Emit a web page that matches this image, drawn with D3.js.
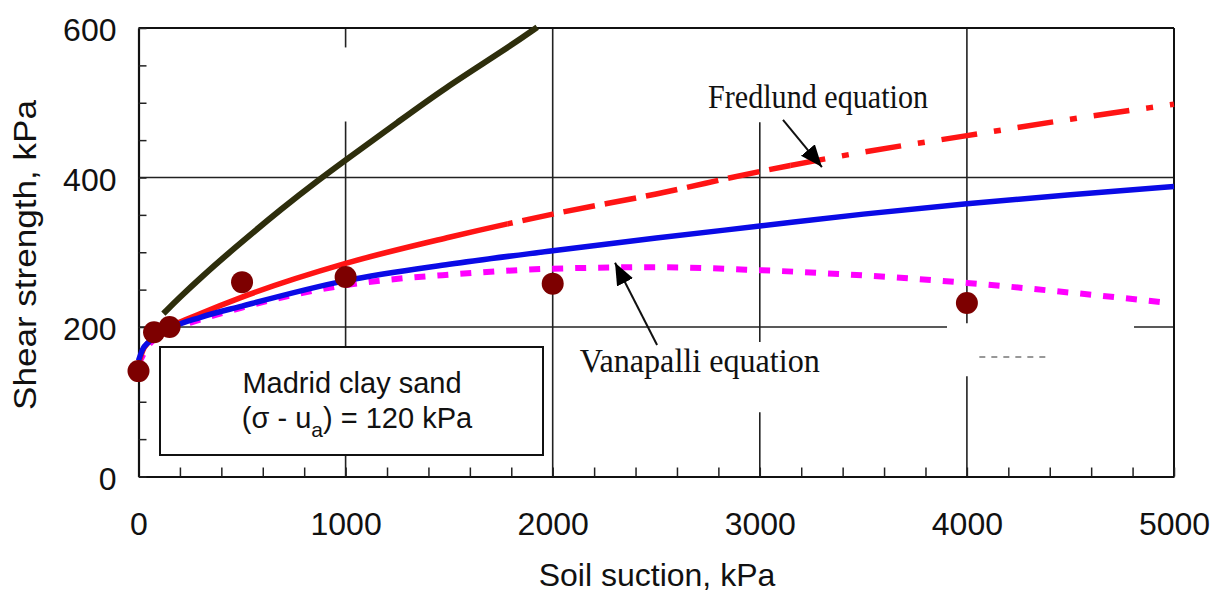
<!DOCTYPE html>
<html>
<head>
<meta charset="utf-8">
<script src="https://cdn.jsdelivr.net/npm/d3@7/dist/d3.min.js"></script>
<style>
  body { margin: 0; background: #fff; }
  svg { display: block; }
</style>
</head>
<body>
<div id="chart"></div>
<script>
// axis ticks
const suctionTicks = [0, 1000, 2000, 3000, 4000, 5000];
const strengthTicks = [0, 200, 400, 600];

// measured points
const testSuction = [0, 75, 150, 500, 1000, 2000, 4000];
const testStrength = [141, 193, 200, 260, 267, 258, 232];

// Fredlund equation (red)
const fredSuction = [0, 20, 50, 100, 150, 300, 500, 1000, 1500, 2000, 2500, 3000, 3500, 4000, 4500, 5000];
const fredStrength = [150, 168, 180, 192, 200, 218, 240, 285, 320, 351, 378, 408, 434, 456, 478, 498];

// Vanapalli equation (blue)
const vanSuction = [0, 20, 50, 100, 150, 300, 500, 1000, 1500, 2000, 2500, 3000, 3500, 4000, 4500, 5000];
const vanStrength = [155, 170, 180, 190, 198, 213, 228, 262, 284, 302, 319, 335, 351, 365, 377, 388];

// magenta dashed curve
const magSuction = [0, 50, 150, 300, 500, 800, 1000, 1200, 1500, 2000, 2500, 3000, 3500, 4000, 4500, 4950];
const magStrength = [150, 176, 195, 210, 226, 246, 256, 263, 270, 278, 280, 276, 269, 259, 246, 233];

// olive curve
const oliveSuction = [120, 200, 300, 456, 698, 876, 988, 1262, 1470, 1780, 1925];
const oliveStrength = [218, 240, 266, 304, 360, 398, 421, 476, 518, 573, 601];

const width = 1224, height = 594;

const svg = d3.select("#chart").append("svg")
  .attr("width", width)
  .attr("height", height);

svg.append("rect").attr("width", width).attr("height", height).attr("fill", "#fff");

const x = d3.scaleLinear().domain([0, 5000]).range([138.5, 1174]);
const y = d3.scaleLinear().domain([0, 600]).range([476.5, 28]);

const zip = (xs, ys) => xs.map((v, i) => [v, ys[i]]);

// gridlines (with the gaps seen in the original)
const vGrid = [[1000, 600, 574], [1000, 475, 0], [2000, 600, 0], [3000, 474, 180], [3000, 86, 0], [4000, 600, 205], [4000, 134, 0]];
const hGrid = [[400, 0, 5000], [200, 0, 3904], [200, 4807, 5000]];

const grid = svg.append("g").attr("stroke", "#222").attr("stroke-width", 1.6);
grid.selectAll(".vg").data(vGrid).join("line")
  .attr("x1", d => x(d[0])).attr("x2", d => x(d[0]))
  .attr("y1", d => y(d[1])).attr("y2", d => y(d[2]));
grid.selectAll(".hg").data(hGrid).join("line")
  .attr("y1", d => y(d[0])).attr("y2", d => y(d[0]))
  .attr("x1", d => x(d[1])).attr("x2", d => x(d[2]));

// faint leftover dashes
svg.append("line")
  .attr("x1", x(4060)).attr("x2", x(4400))
  .attr("y1", y(160)).attr("y2", y(160))
  .attr("stroke", "#777").attr("stroke-width", 1.5).attr("stroke-dasharray", "6,6");

// frame: top & right
svg.append("line").attr("x1", x(0)).attr("x2", x(5000)).attr("y1", y(600)).attr("y2", y(600))
  .attr("stroke", "#111").attr("stroke-width", 2);
svg.append("line").attr("x1", x(5000)).attr("x2", x(5000)).attr("y1", y(600)).attr("y2", y(0))
  .attr("stroke", "#111").attr("stroke-width", 2);

// minor ticks + axis lines
const xMinor = svg.append("g").attr("transform", `translate(0,${y(0)})`)
  .call(d3.axisBottom(x).tickValues(d3.range(0, 5001, 200)).tickSizeInner(-9).tickSizeOuter(0).tickFormat(""));
const yMinor = svg.append("g").attr("transform", `translate(${x(0)},0)`)
  .call(d3.axisLeft(y).tickValues(d3.range(0, 601, 50)).tickSizeInner(-8).tickSizeOuter(0).tickFormat(""));
[xMinor, yMinor].forEach(g => {
  g.select(".domain").attr("stroke", "#111").attr("stroke-width", 2.2);
  g.selectAll(".tick line").attr("stroke", "#222").attr("stroke-width", 1.5);
});

// tick labels
const xLab = svg.append("g").attr("transform", `translate(0,${y(0)})`)
  .call(d3.axisBottom(x).tickValues(suctionTicks).tickSize(0).tickPadding(36).tickFormat(d3.format("d")));
const yLab = svg.append("g").attr("transform", `translate(${x(0)},0)`)
  .call(d3.axisLeft(y).tickValues(strengthTicks).tickSize(0).tickPadding(22).tickFormat(d3.format("d")));
[xLab, yLab].forEach(g => {
  g.select(".domain").remove();
  g.selectAll("text").attr("fill", "#111")
    .style("font-family", "Arial, 'Liberation Sans', sans-serif").style("font-size", "32px");
});
yLab.selectAll("text").attr("dy", "0.40em");

// axis titles
svg.append("text")
  .attr("x", 657).attr("y", 586)
  .attr("text-anchor", "middle")
  .style("font-family", "Arial, 'Liberation Sans', sans-serif").style("font-size", "32px")
  .attr("fill", "#111")
  .text("Soil suction, kPa");

svg.append("text")
  .attr("transform", "translate(36,255) rotate(-90)")
  .attr("text-anchor", "middle")
  .attr("textLength", 310).attr("lengthAdjust", "spacingAndGlyphs")
  .style("font-family", "Arial, 'Liberation Sans', sans-serif").style("font-size", "31px")
  .attr("fill", "#111")
  .text("Shear strength, kPa");

// legend box
svg.append("rect")
  .attr("x", 160).attr("y", 347).attr("width", 383).attr("height", 108)
  .attr("fill", "#fff").attr("stroke", "#111").attr("stroke-width", 2);

const boxText = svg.append("g")
  .style("font-family", "Arial, 'Liberation Sans', sans-serif").style("font-size", "29px")
  .attr("fill", "#111").attr("text-anchor", "middle");
boxText.append("text").attr("x", 352).attr("y", 393).text("Madrid clay sand");
const t2 = boxText.append("text").attr("x", 357).attr("y", 428);
t2.append("tspan").text("(σ - u");
t2.append("tspan").attr("dy", 9).style("font-size", "21px").text("a");
t2.append("tspan").attr("dy", -9).text(") = 120 kPa");

// curves
const line = d3.line().x(d => x(d[0])).y(d => y(d[1])).curve(d3.curveMonotoneX);

svg.append("path")
  .datum(zip(magSuction, magStrength))
  .attr("d", line)
  .attr("fill", "none").attr("stroke", "#ff00ff").attr("stroke-width", 6)
  .attr("stroke-dasharray", "11,12");

// red line changes style along its length: solid, dashed, dash-dot
const defs = svg.append("defs");
const redParts = [[0, 1780, null], [1780, 3150, "32,10"], [3150, 5050, "36,17,7,17"]];
redParts.forEach((p, i) => {
  defs.append("clipPath").attr("id", "redclip" + i)
    .append("rect")
    .attr("x", x(p[0])).attr("width", x(p[1]) - x(p[0]))
    .attr("y", 0).attr("height", height);
  svg.append("path")
    .datum(zip(fredSuction, fredStrength))
    .attr("d", line)
    .attr("clip-path", `url(#redclip${i})`)
    .attr("fill", "none").attr("stroke", "#ff1414").attr("stroke-width", 5.5)
    .attr("stroke-dasharray", p[2]);
});

svg.append("path")
  .datum(zip(vanSuction, vanStrength))
  .attr("d", line)
  .attr("fill", "none").attr("stroke", "#0a0ae6").attr("stroke-width", 5.5);

svg.append("path")
  .datum(zip(oliveSuction, oliveStrength))
  .attr("d", line.curve(d3.curveBasis))
  .attr("fill", "none").attr("stroke", "#2e2e0c").attr("stroke-width", 6);
line.curve(d3.curveMonotoneX);

// measured points
svg.selectAll(".pt")
  .data(zip(testSuction, testStrength))
  .join("circle")
  .attr("cx", d => x(d[0])).attr("cy", d => y(d[1]))
  .attr("r", 11)
  .attr("fill", "#7d0000");

// annotations
defs.append("marker")
  .attr("id", "arrow")
  .attr("markerUnits", "userSpaceOnUse")
  .attr("markerWidth", 24).attr("markerHeight", 20)
  .attr("refX", 22).attr("refY", 9)
  .attr("orient", "auto")
  .append("path").attr("d", "M0,0 L22,9 L0,18 Z").attr("fill", "#000");

const notes = [
  { text: "Fredlund equation", tx: 2750, ty: 493, len: 220, from: [3112, 477], to: [3300, 414] },
  { text: "Vanapalli equation", tx: 2131, ty: 140, len: 240, from: [2504, 176], to: [2301, 286] }
];
notes.forEach(n => {
  svg.append("text")
    .attr("x", x(n.tx)).attr("y", y(n.ty))
    .attr("textLength", n.len).attr("lengthAdjust", "spacingAndGlyphs")
    .style("font-family", "'Times New Roman', 'Liberation Serif', serif").style("font-size", "34px")
    .attr("fill", "#111")
    .text(n.text);
  svg.append("line")
    .attr("x1", x(n.from[0])).attr("y1", y(n.from[1]))
    .attr("x2", x(n.to[0])).attr("y2", y(n.to[1]))
    .attr("stroke", "#111").attr("stroke-width", 2)
    .attr("marker-end", "url(#arrow)");
});
</script>
</body>
</html>
